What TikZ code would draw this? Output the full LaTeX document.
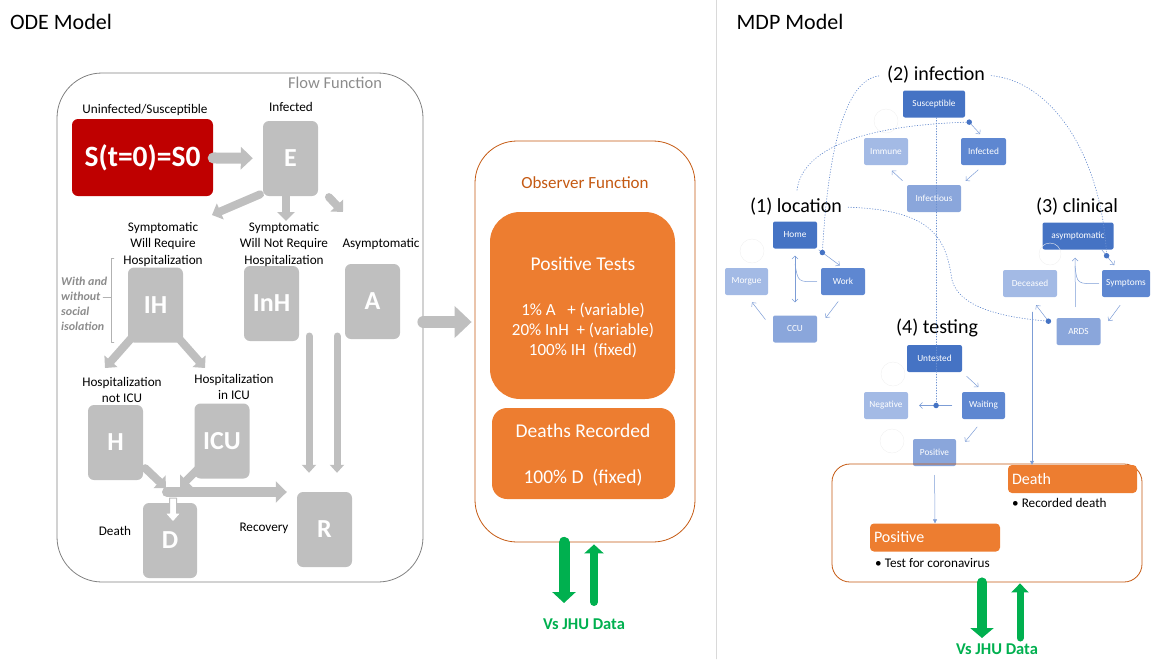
\documentclass[tikz,border=0pt]{standalone}
\usepackage{fontspec}
\setmainfont{Carlito}
\usetikzlibrary{arrows.meta}
\definecolor{odegray}{rgb}{0.75,0.75,0.75}
\definecolor{edgegray}{rgb}{0.5,0.5,0.5}
\definecolor{textgray}{rgb}{0.55,0.55,0.55}
\definecolor{sred}{rgb}{0.75,0.,0.}
\definecolor{obsorange}{rgb}{0.93,0.49,0.19}
\definecolor{obsedge}{rgb}{0.77,0.35,0.07}
\definecolor{jhugreen}{rgb}{0.,0.69,0.31}
\definecolor{mdpdark}{rgb}{0.27,0.45,0.77}
\definecolor{mdpmid}{rgb}{0.37,0.53,0.82}
\definecolor{mdpsoft}{rgb}{0.54,0.65,0.86}
\definecolor{mdppale}{rgb}{0.64,0.73,0.9}

\begin{document}
\begin{tikzpicture}[x=1pt,y=-1pt,line cap=round,line join=round,
  odebox/.style={fill=odegray,rounded corners=6pt,text=white,font=\bfseries\fontsize{26}{26}\selectfont,minimum width=55pt,minimum height=75pt,inner sep=0pt},
  lbl/.style={font=\fontsize{13.2}{16.5}\selectfont,align=center,inner sep=0pt},
  bigarrow/.style={odegray,line width=11pt,-{Triangle[length=12pt,width=22pt]}},
  midarrow/.style={odegray,line width=8pt,-{Triangle[length=9pt,width=17pt]}},
  thinarrow/.style={odegray,line width=7pt,-{Triangle[length=8pt,width=14pt]}},
  grp/.style={font=\fontsize{20}{20}\selectfont,inner sep=0pt},
  state/.style={rounded corners=2pt,text=white,font=\fontsize{9.3}{9.3}\selectfont,minimum height=27pt,inner sep=0pt},
  trans/.style={mdpdark!70,line width=0.5pt,-{Straight Barb[length=3pt,width=6pt]}},
  link/.style={mdpdark!80,line width=0.7pt,dotted},
  joint/.style={circle,fill=mdpdark,inner sep=0pt,minimum size=5.5pt},
  loopc/.style={black!6,line width=0.4pt},
  hdr/.style={fill=obsorange,rounded corners=4pt,text=white,font=\fontsize{16}{16}\selectfont,minimum height=28pt,align=left,inner sep=4pt},
  bul/.style={font=\fontsize{13.2}{14}\selectfont,inner sep=0pt,anchor=west}]
\useasboundingbox (0,0) rectangle (1151,659);

% titles and divider
\node[font=\fontsize{22}{22}\selectfont,inner sep=0pt] (odeT) at (61,22) {ODE Model};
\node[font=\fontsize{22}{22}\selectfont,inner sep=0pt] (mdpT) at (790,22) {MDP Model};
\draw[black!15] (716,0) -- (716,659);

% flow function
\node[draw=edgegray,line width=0.8pt,rounded corners=45pt,minimum width=366pt,minimum height=509pt] (flow) at (240,327.5) {};
\node[font=\fontsize{16.5}{16.5}\selectfont,text=textgray,inner sep=0pt] (flowT) at (335,83) {Flow Function};

\node[odebox,fill=sred,minimum width=141pt,minimum height=77pt,font=\bfseries\fontsize{29.5}{29.5}\selectfont] (S) at (142.5,157.5) {S(t=0)=S0};
\node[odebox] (E) at (290.5,158.5) {E};
\node[odebox] (IH) at (155.5,305) {IH};
\node[odebox] (InH) at (271.5,303.5) {InH};
\node[odebox] (A) at (372.5,301.5) {A};
\node[odebox] (H) at (115.5,442.5) {H};
\node[odebox] (ICU) at (222,441) {ICU};
\node[odebox,minimum width=54pt] (D) at (170,540.5) {D};
\node[odebox] (R) at (324.5,529.5) {R};

\node[lbl] (uninf) at (145,110) {Uninfected/Susceptible};
\node[lbl] (infl) at (291,107) {Infected};
\node[lbl] (sympH) at (163,244) {Symptomatic\\Will Require\\Hospitalization};
\node[lbl] (sympN) at (284,244) {Symptomatic\\Will Not Require\\Hospitalization};
\node[lbl] (asym) at (381,244) {Asymptomatic};
\node[lbl] (hospN) at (122,390) {Hospitalization\\not ICU};
\node[lbl] (hospI) at (234,387) {Hospitalization\\in ICU};
\node[lbl] (death) at (115,531) {Death};
\node[lbl] (recov) at (264,528) {Recovery};
\node[font=\bfseries\itshape\fontsize{12}{15}\selectfont,text=textgray,align=left,inner sep=0pt,anchor=west] (isol) at (61,304) {With and\\without\\social\\isolation};
\draw[edgegray!60] (114,258) -- (111,258) -- (111,342) -- (114,342);
\coordinate (brk) at (111,297);
\draw[edgegray!60] (103,297) -- (brk);

\coordinate (eL) at (212,215);
\coordinate (eD) at (286,221);
\coordinate (eR) at (343,212);
\coordinate (ihL) at (105,368);
\coordinate (ihR) at (205,368);
\coordinate (hx) at (166,488);
\coordinate (icux) at (180,487);
\coordinate (merge) at (167,492);
\coordinate (v1) at (309,336);
\coordinate (v2) at (337,336);
\draw[bigarrow,shorten >=10pt] (S) -- (E);
\draw[midarrow,shorten <=3pt] ([yshift=3pt]E.south west) -- (eL);
\draw[midarrow] (E.south -| eD) -- (eD);
\draw[midarrow,shorten <=4pt] ([xshift=8pt,yshift=2pt]E.south east) -- (eR);
\draw[midarrow] ([xshift=4pt,yshift=5pt]IH.south west) -- (ihL);
\draw[midarrow] ([xshift=-5pt,yshift=5pt]IH.south east) -- (ihR);
\draw[midarrow] ([xshift=2pt,yshift=12pt]H.south east) -- (hx);
\draw[midarrow] ([xshift=9pt,yshift=15pt]ICU.south west) -- (icux);
\draw[midarrow,line width=10pt,-{Triangle[length=11pt,width=21pt]},shorten >=10pt] (merge) -- (R.west |- merge);
\draw[thinarrow,shorten >=19pt] (v1) -- (R.north -| v1);
\draw[thinarrow,shorten >=19pt] (v2) -- (R.north -| v2);
\draw[odegray,line width=1pt,fill=white] (169.5,498) -- (176.5,498) -- (176.5,513) -- (181,513) -- (173,522) -- (165,513) -- (169.5,513) -- cycle;

% observer function
\node[draw=obsedge,line width=0.8pt,rounded corners=42pt,minimum width=220pt,minimum height=401pt] (obs) at (585,341.5) {};
\node[font=\fontsize{17}{17}\selectfont,text=obsedge,inner sep=0pt] (obsT) at (585,183) {Observer Function};
\node[fill=obsorange,rounded corners=30pt,minimum width=185pt,minimum height=187pt] (ptests) at (582.5,305.5) {};
\node[text=white,font=\fontsize{19.5}{19.5}\selectfont,inner sep=0pt] (ptestsT) at (583,264) {Positive Tests};
\node[text=white,font=\fontsize{17}{20}\selectfont,align=center,inner sep=0pt] (ptestsA) at (583,330) {1\% A\ \ \ + (variable)\\20\% InH\ \ + (variable)\\100\% IH\ \ (fixed)};
\node[fill=obsorange,rounded corners=15pt,minimum width=183pt,minimum height=91pt] (drec) at (583.5,453.5) {};
\node[text=white,font=\fontsize{19.5}{19.5}\selectfont,inner sep=0pt] (drecT) at (583,431) {Deaths Recorded};
\node[text=white,font=\fontsize{19.5}{19.5}\selectfont,inner sep=0pt] (drecA) at (583,478) {100\% D\ \ (fixed)};
\draw[bigarrow,line width=12pt,-{Triangle[length=17pt,width=31pt]},shorten >=3pt] ([yshift=5.5pt]flow.east) -- ([yshift=19.5pt]obs.west);

\node[font=\bfseries\fontsize{16.5}{16.5}\selectfont,text=jhugreen,inner sep=0pt] (jhuL) at (584,624) {Vs JHU Data};
\coordinate (dnA) at (564,603);
\coordinate (upA) at (594,602);
\draw[jhugreen,line width=11pt,-{Triangle[length=11pt,width=23pt]}] (obs.south -| dnA) -- (dnA);
\draw[jhugreen,line width=8pt,-{Triangle[length=9pt,width=19pt]},shorten >=2pt] (upA) -- (obs.south -| upA);

% MDP model
\node[grp] (gInf) at (936,75) {(2) infection};
\node[state,fill=mdpdark,minimum width=62pt] (sus) at (934,104) {Susceptible};
\node[state,fill=mdppale,minimum width=44pt] (imm) at (886,151.5) {Immune};
\node[state,fill=mdpmid,minimum width=45pt] (inf) at (983.5,151.5) {Infected};
\node[state,fill=mdpsoft,minimum width=54pt] (infs) at (934,198.5) {Infectious};

\node[grp] (gLoc) at (796,207) {(1) location};
\node[state,fill=mdpdark,minimum width=44pt] (home) at (795,235) {Home};
\node[state,fill=mdpmid,minimum width=44pt] (work) at (843,281.5) {Work};
\node[state,fill=mdppale,minimum width=43pt] (morgue) at (746.5,281.5) {Morgue};
\node[state,fill=mdpsoft,minimum width=44pt] (ccu) at (795,329) {CCU};

\node[grp] (gCli) at (1077,207) {(3) clinical};
\node[state,fill=mdpdark,minimum width=71pt] (asy) at (1078,236) {asymptomatic};
\node[state,fill=mdpmid,minimum width=48pt] (sym) at (1126,283.5) {Symptoms};
\node[state,fill=mdppale,minimum width=54pt] (dec) at (1030,283.5) {Deceased};
\node[state,fill=mdpsoft,minimum width=44pt] (ards) at (1078.5,331.5) {ARDS};

\node[grp] (gTest) at (937,328) {(4) testing};
\node[state,fill=mdpdark,minimum width=55pt] (unt) at (934.5,358.5) {Untested};
\node[state,fill=mdpmid,minimum width=43pt] (wait) at (983.5,405.5) {Waiting};
\node[state,fill=mdppale,minimum width=44pt] (neg) at (886,405.5) {Negative};
\node[state,fill=mdpsoft,minimum width=43pt] (tpos) at (934.5,452.5) {Positive};

% faint self loops
\draw[loopc] (886,121) circle (12);
\draw[loopc] (752,251) circle (12);
\draw[loopc] (1050,254) circle (11);
\draw[loopc] (893,374) circle (12);
\draw[loopc] (892,441) circle (12);

% transitions
\draw[trans,shorten <=4pt,shorten >=5pt] (sus.south east) -- (inf.north) coordinate[pos=0.22] (jInf);
\draw[trans,shorten <=7pt,shorten >=6pt] (inf.south) -- (infs.north east);
\draw[trans,shorten <=6pt,shorten >=8pt] (infs.north west) -- (imm.south);
\draw[trans,shorten <=2pt,shorten >=4pt] (home.south east) -- (work.north) coordinate[pos=0.2] (jLoc);
\draw[trans,{Straight Barb[length=3pt,width=6pt]}-{Straight Barb[length=3pt,width=6pt]},shorten <=7pt,shorten >=13pt] (home) -- (ccu);
\coordinate (hcMid) at (795,264);
\draw[mdpdark!70,line width=0.5pt] ([xshift=-4pt]work.west) .. controls (798,282) .. (hcMid);
\draw[trans,shorten <=8pt,shorten >=14pt] (work.south) -- (ccu.east);
\draw[trans,shorten <=12pt,shorten >=9pt] (ccu.west) -- (morgue.south);
\draw[trans,shorten >=6pt] ([xshift=-12pt]asy.south east) -- ([xshift=-8pt]sym.north) coordinate[pos=0.3] (jAsy);
\draw[trans,shorten <=10pt,shorten >=13pt] (sym.south) -- (ards.east);
\draw[trans,shorten <=11pt,shorten >=8pt] ([xshift=-3pt]ards.north) -- ([xshift=-3pt]asy.south);
\coordinate (cliMid) at (1075,266);
\draw[mdpdark!70,line width=0.5pt] ([xshift=-3pt]sym.west) .. controls (1077,284) .. (cliMid);
\draw[trans,shorten <=11pt,shorten >=10pt] (ards.west) -- (dec.south) coordinate[pos=0.3] (jArds);
\draw[trans,shorten <=6pt,shorten >=7pt] (unt.south east) -- (wait.north);
\draw[trans,shorten <=10pt,shorten >=11pt] (wait.west) -- (neg.east) coordinate[pos=0.48] (jWait);
\draw[trans,shorten <=10pt,shorten >=14pt] (wait.south) -- (tpos.east);

% links between groups
\draw[link,shorten <=8pt] (gInf.west) .. controls (845,80) and (828,150) .. (jLoc);
\draw[link,shorten <=6pt] (gInf.east) .. controls (1055,82) and (1102,160) .. (jAsy);
\draw[link,shorten <=8pt] (gLoc.north) .. controls (802,150) and (860,125) .. (jInf);
\draw[link,shorten <=6pt] (gLoc.east) .. controls (935,210) and (946,240) .. (952,280) .. controls (960,310) and (1010,318) .. (jArds);
\draw[link] (sus.south -| jWait) -- (jWait);
\node[joint] (dInf) at (jInf) {};
\node[joint] (dLoc) at (jLoc) {};
\node[joint] (dAsy) at (jAsy) {};
\node[joint] (dArds) at (jArds) {};
\node[joint] (dWait) at (jWait) {};

% observed outcomes
\node[draw=obsedge,line width=0.8pt,rounded corners=18pt,minimum width=310pt,minimum height=118pt] (outc) at (987,523) {};
\node[hdr,text width=121pt] (dhead) at (1072.5,479) {Death};
\node[bul] (dbul) at (1012,503) {\textbullet\ Recorded death};
\node[hdr,text width=122pt] (phead) at (935,537.5) {Positive};
\node[bul] (pbul) at (875,563) {\textbullet\ Test for coronavirus};
\coordinate (jDeath) at (1032,312);
\draw[trans,-{Triangle[length=4pt,width=4pt]}] (jDeath) -- (dhead.north -| jDeath);
\draw[trans,-{Triangle[length=4pt,width=4pt]},shorten <=9pt] (tpos.south) -- (phead.north);

\node[font=\bfseries\fontsize{16.5}{16.5}\selectfont,text=jhugreen,inner sep=0pt] (jhuR) at (997,649) {Vs JHU Data};
\coordinate (dnB) at (982,638);
\coordinate (upB) at (1020,638);
\draw[jhugreen,line width=10pt,-{Triangle[length=10pt,width=23pt]}] (outc.south -| dnB) -- (dnB);
\draw[jhugreen,line width=7pt,-{Triangle[length=9pt,width=17pt]},shorten >=1pt] (upB) -- (outc.south -| upB);
\end{tikzpicture}
\end{document}
